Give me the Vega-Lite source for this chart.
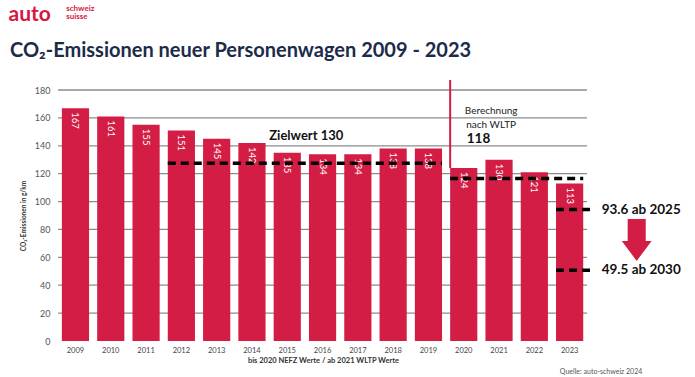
{
  "$schema": "https://vega.github.io/schema/vega-lite/v6.json",
  "width": 635,
  "height": 251,
  "autosize": "none",
  "padding": {"left": 58, "top": 90, "right": 2, "bottom": 36},
  "background": "white",
  "config": {"view": {"stroke": null}, "font": "Lato"},
  "title": {
    "text": "CO₂-Emissionen neuer Personenwagen 2009 - 2023",
    "anchor": "start",
    "frame": "group",
    "dx": -48,
    "offset": -57,
    "font": "Lato",
    "fontSize": 20,
    "fontWeight": "bold",
    "color": "#1c2b49"
  },
  "datasets": {
    "co2": [
      {"year": "2009", "value": 167},
      {"year": "2010", "value": 161},
      {"year": "2011", "value": 155},
      {"year": "2012", "value": 151},
      {"year": "2013", "value": 145},
      {"year": "2014", "value": 142},
      {"year": "2015", "value": 135},
      {"year": "2016", "value": 134},
      {"year": "2017", "value": 134},
      {"year": "2018", "value": 138},
      {"year": "2019", "value": 138},
      {"year": "2020", "value": 124},
      {"year": "2021", "value": 130},
      {"year": "2022", "value": 121},
      {"year": "2023", "value": 113}
    ],
    "grid": [{"v": 20}, {"v": 40}, {"v": 60}, {"v": 80}, {"v": 100}, {"v": 120}, {"v": 140}, {"v": 160}, {"v": 180}],
    "targets": [
      {"name": "Zielwert", "x0": "2012", "x1": "2019", "v": 127.5},
      {"name": "WLTP", "x0": "2020", "x1": "2023", "v": 116.5}
    ],
    "future": [
      {"name": "2025", "v": 94.3},
      {"name": "2030", "v": 50.8}
    ],
    "futureText": [
      {"t": "93.6 ab 2025", "v": 93.6},
      {"t": "49.5 ab 2030", "v": 50.9}
    ],
    "wltpText": [
      {"t": "Berechnung", "v": 165.2},
      {"t": "nach WLTP", "v": 155.2}
    ],
    "logo": [
      {"t": "schweiz", "v": 237.0},
      {"t": "suisse", "v": 231.0}
    ],
    "one": [{}]
  },
  "layer": [
    {
      "data": {"name": "grid"},
      "mark": {"type": "rule", "color": "#8c8c8c", "strokeWidth": 1.3},
      "encoding": {
        "y": {
          "field": "v", "type": "quantitative", "scale": {"domain": [0, 180], "nice": false},
          "axis": {
            "title": "CO₂-Emissionen in g/km",
            "values": [0, 20, 40, 60, 80, 100, 120, 140, 160, 180],
            "tickCount": 20,
            "grid": false, "ticks": false, "domain": false,
            "labelOverlap": false, "labelBound": false, "labelFlush": false,
            "labelFontSize": 9, "labelColor": "#555", "labelPadding": 8,
            "titleFontSize": 6.5, "titleFontWeight": "bold", "titleColor": "#333", "titlePadding": 8
          }
        },
        "x": {
          "datum": "2009", "type": "nominal", "bandPosition": -0.14,
          "scale": {"domain": ["2009","2010","2011","2012","2013","2014","2015","2016","2017","2018","2019","2020","2021","2022","2023","A","B","C"], "paddingInner": 0.23, "paddingOuter": 0.11},
          "axis": {
            "title": "bis 2020 NEFZ Werte / ab 2021 WLTP Werte",
            "labelAngle": 0, "labelFontSize": 7.5, "labelColor": "#444",
            "labelExpr": "length(datum.value) > 1 ? datum.value : ''",
            "ticks": false, "domain": false, "labelPadding": 5,
            "titleFontSize": 7.5, "titleFontWeight": "bold", "titleColor": "#333",
            "titleX": 265, "titlePadding": 3
          }
        },
        "x2": {"datum": "2023", "bandPosition": 1.14}
      }
    },
    {
      "data": {"name": "co2"},
      "mark": {"type": "bar", "color": "#d31d44"},
      "encoding": {
        "x": {"field": "year", "type": "nominal"},
        "y": {"field": "value", "type": "quantitative", "scale": {"domain": [0, 180], "nice": false}}
      }
    },
    {
      "data": {"name": "co2"},
      "mark": {"type": "text", "angle": 90, "align": "left", "baseline": "middle", "dx": 4, "color": "white", "fontSize": 9.5},
      "encoding": {
        "x": {"field": "year", "type": "nominal"},
        "y": {"field": "value", "type": "quantitative", "scale": {"domain": [0, 180], "nice": false}},
        "text": {"field": "value", "type": "quantitative"}
      }
    },
    {
      "data": {"name": "targets"},
      "mark": {"type": "rule", "color": "black", "strokeWidth": 3.5, "strokeDash": [8, 5]},
      "encoding": {
        "x": {"field": "x0", "type": "nominal", "bandPosition": 0},
        "x2": {"field": "x1", "bandPosition": 1},
        "y": {"field": "v", "type": "quantitative", "scale": {"domain": [0, 180], "nice": false}}
      }
    },
    {
      "data": {"name": "future"},
      "mark": {"type": "rule", "color": "black", "strokeWidth": 3.5, "strokeDash": [8, 5]},
      "encoding": {
        "x": {"datum": "2023", "type": "nominal", "bandPosition": 0},
        "x2": {"datum": "2023", "bandPosition": 1.25},
        "y": {"field": "v", "type": "quantitative", "scale": {"domain": [0, 180], "nice": false}}
      }
    },
    {
      "data": {"name": "one"},
      "mark": {"type": "rule", "color": "#d31d44", "strokeWidth": 2, "clip": false},
      "encoding": {
        "x": {"datum": "2020", "type": "nominal", "bandPosition": 0},
        "y": {"datum": 187.2, "type": "quantitative", "scale": {"domain": [0, 180], "nice": false}},
        "y2": {"datum": 124}
      }
    },
    {
      "data": {"name": "one"},
      "mark": {"type": "point", "shape": "M-0.43,-1L0.43,-1L0.43,0.05L0.71,0.05L0,1L-0.71,0.05L-0.43,0.05Z", "filled": true, "color": "#d31d44", "opacity": 1, "size": 1764, "strokeWidth": 0},
      "encoding": {
        "x": {"datum": "B", "type": "nominal", "bandPosition": 0.37},
        "y": {"datum": 72.5, "type": "quantitative", "scale": {"domain": [0, 180], "nice": false}}
      }
    },
    {
      "data": {"name": "one"},
      "mark": {"type": "text", "text": "Zielwert 130", "fontSize": 13, "fontWeight": "bold", "color": "#111", "align": "center", "baseline": "middle"},
      "encoding": {
        "x": {"datum": "2015", "type": "nominal", "bandPosition": 1.2},
        "y": {"datum": 147, "type": "quantitative", "scale": {"domain": [0, 180], "nice": false}}
      }
    },
    {
      "data": {"name": "wltpText"},
      "mark": {"type": "text", "fontSize": 10, "color": "#222", "align": "center", "baseline": "middle"},
      "encoding": {
        "x": {"datum": "2021", "type": "nominal", "bandPosition": 0.21},
        "y": {"field": "v", "type": "quantitative", "scale": {"domain": [0, 180], "nice": false}},
        "text": {"field": "t"}
      }
    },
    {
      "data": {"name": "one"},
      "mark": {"type": "text", "text": "118", "fontSize": 13.5, "fontWeight": "bold", "color": "#111", "align": "left", "baseline": "middle"},
      "encoding": {
        "x": {"datum": "2020", "type": "nominal", "bandPosition": 0.61},
        "y": {"datum": 145, "type": "quantitative", "scale": {"domain": [0, 180], "nice": false}}
      }
    },
    {
      "data": {"name": "futureText"},
      "mark": {"type": "text", "fontSize": 13.5, "fontWeight": "bold", "color": "#111", "align": "left", "baseline": "middle", "clip": false},
      "encoding": {
        "x": {"datum": "A", "type": "nominal", "bandPosition": 0.38},
        "y": {"field": "v", "type": "quantitative", "scale": {"domain": [0, 180], "nice": false}},
        "text": {"field": "t"}
      }
    },
    {
      "data": {"name": "one"},
      "mark": {"type": "text", "text": "Quelle: auto-schweiz 2024", "fontSize": 7, "color": "#555", "align": "left", "baseline": "middle", "clip": false},
      "encoding": {
        "x": {"datum": "2023", "type": "nominal", "bandPosition": 0.14},
        "y": {"datum": -22, "type": "quantitative", "scale": {"domain": [0, 180], "nice": false}}
      }
    },
    {
      "data": {"name": "one"},
      "mark": {"type": "text", "text": "auto", "fontSize": 21, "fontWeight": "bold", "color": "#d6163f", "align": "left", "baseline": "alphabetic", "clip": false},
      "encoding": {
        "x": {"datum": "2009", "type": "nominal", "bandPosition": -1.96},
        "y": {"datum": 229.8, "type": "quantitative", "scale": {"domain": [0, 180], "nice": false}}
      }
    },
    {
      "data": {"name": "logo"},
      "mark": {"type": "text", "fontSize": 8, "fontWeight": "bold", "color": "#d6163f", "align": "left", "baseline": "alphabetic", "clip": false},
      "encoding": {
        "x": {"datum": "2009", "type": "nominal", "bandPosition": 0.16},
        "y": {"field": "v", "type": "quantitative", "scale": {"domain": [0, 180], "nice": false}},
        "text": {"field": "t"}
      }
    }
  ]
}
